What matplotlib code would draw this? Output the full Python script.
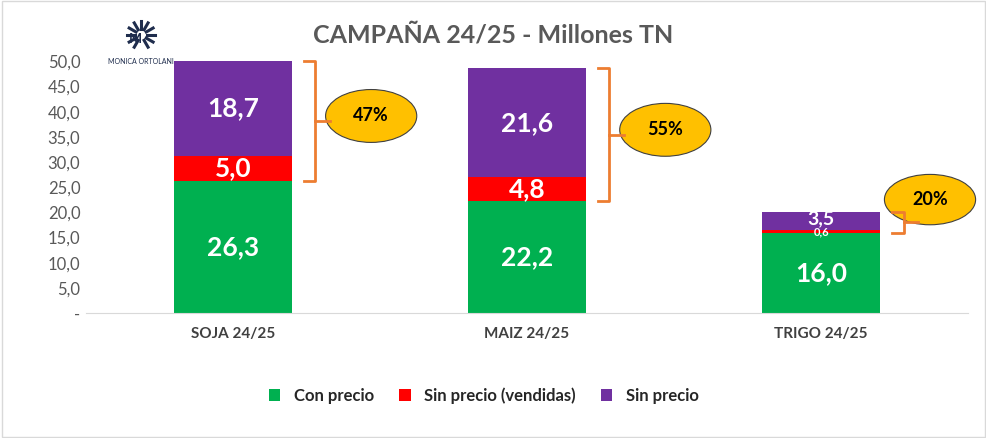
import numpy as np
import matplotlib.pyplot as plt
from matplotlib.patches import Ellipse, Rectangle

plt.rcParams['font.family'] = ['Lato', 'DejaVu Sans']

categories = ['SOJA 24/25', 'MAIZ 24/25', 'TRIGO 24/25']
con_precio = [26.3, 22.2, 16.0]
sin_precio_vend = [5.0, 4.8, 0.6]
sin_precio = [18.7, 21.6, 3.5]
pct_labels = ['47%', '55%', '20%']

green, red, purple = '#00B050', '#FF0000', '#7030A0'

fig = plt.figure(figsize=(9.87, 4.38), dpi=100)
fig.patches.append(Rectangle((0.002, 0.003), 0.996, 0.994, transform=fig.transFigure,
                             fill=False, ec='#D9D9D9', lw=1))
ax = fig.add_axes([0.087, 0.285, 0.894, 0.575])
x = np.arange(len(categories))
w = 0.4
b1 = np.array(con_precio)
b2 = b1 + np.array(sin_precio_vend)
ax.bar(x, con_precio, w, color=green, label='Con precio')
ax.bar(x, sin_precio_vend, w, bottom=b1, color=red, label='Sin precio (vendidas)')
ax.bar(x, sin_precio, w, bottom=b2, color=purple, label='Sin precio')

for i in range(3):
    ax.text(x[i], con_precio[i] / 2, f'{con_precio[i]:.1f}'.replace('.', ','), ha='center', va='center',
            color='white', fontsize=19, fontweight='bold')
    if sin_precio_vend[i] > 2:
        ax.text(x[i], b1[i] + sin_precio_vend[i] / 2, f'{sin_precio_vend[i]:.1f}'.replace('.', ','),
                ha='center', va='center', color='white', fontsize=19, fontweight='bold')
        ax.text(x[i], b2[i] + sin_precio[i] / 2, f'{sin_precio[i]:.1f}'.replace('.', ','),
                ha='center', va='center', color='white', fontsize=19, fontweight='bold')
    else:
        ax.text(x[i], b1[i] + 0.1, f'{sin_precio_vend[i]:.1f}'.replace('.', ','),
                ha='center', va='center', color='white', fontsize=8, fontweight='bold')
        ax.text(x[i], b2[i] + sin_precio[i] / 2 + 0.3, f'{sin_precio[i]:.1f}'.replace('.', ','),
                ha='center', va='center', color='white', fontsize=14, fontweight='bold')

    # bracket
    top = b2[i] + sin_precio[i]
    bot = b1[i]
    xb = x[i] + w / 2 + 0.04
    ax.plot([xb, xb + 0.04, xb + 0.04, xb], [top, top, bot, bot], color='#ED7D31', lw=2, clip_on=False)
    mid = (top + bot) / 2
    ax.plot([xb + 0.04, xb + 0.09], [mid, mid], color='#ED7D31', lw=2, clip_on=False)
    ex, ey = x[i] + (0.47 if i < 2 else 0.37), mid + (4.5 if i == 2 else 1.0)
    ax.add_patch(Ellipse((ex, ey), 0.31, 10.5 if i < 2 else 10, fc='#FFC000', ec='#404040', lw=0.8, clip_on=False))
    ax.text(ex, ey, pct_labels[i], ha='center', va='center', fontsize=13, fontweight='bold', color='black')

ax.set_xlim(-0.5, 2.5)
ax.set_ylim(0, 50)
ax.set_yticks(np.arange(0, 51, 5))
ax.set_yticklabels(['-'] + [f'{v:.1f}'.replace('.', ',') for v in range(5, 51, 5)], fontsize=12, color='#595959')
ax.set_xticks(x)
ax.set_xticklabels(categories, fontsize=11, fontweight='bold', color='#404040')
ax.tick_params(length=0, pad=10)
ax.tick_params(axis='y', pad=4)
for s in ['top', 'right', 'left']:
    ax.spines[s].set_visible(False)
ax.spines['bottom'].set_color('#D9D9D9')

fig.text(0.5, 0.92, 'CAMPAÑA 24/25 - Millones TN', ha='center', va='center', fontsize=18,
         fontweight='bold', color='#595959')
fig.legend(loc='center', bbox_to_anchor=(0.49, 0.097), ncol=3, frameon=False,
           prop={'size': 12, 'weight': 'bold'},
           handlelength=0.7, handleheight=0.7, columnspacing=1.5, labelcolor='#262626')

# logo
lx, ly = 0.143, 0.92
for a in np.linspace(-60, 240, 11):
    r = np.radians(a)
    fig.lines.append(plt.Line2D([lx + 0.006 * np.cos(r), lx + 0.014 * np.cos(r)],
                                [ly + 0.014 * np.sin(r), ly + 0.032 * np.sin(r)],
                                transform=fig.transFigure, color='#1F2D4D', lw=2.2))
fig.text(lx - 0.006, ly - 0.01, 'M', ha='center', va='center', fontsize=10, fontweight='bold', color='#1F2D4D')
fig.text(lx, 0.86, 'MONICA ORTOLANI', ha='center', va='center', fontsize=5, color='#1F2D4D')

fig.savefig('out.png', dpi=100)
